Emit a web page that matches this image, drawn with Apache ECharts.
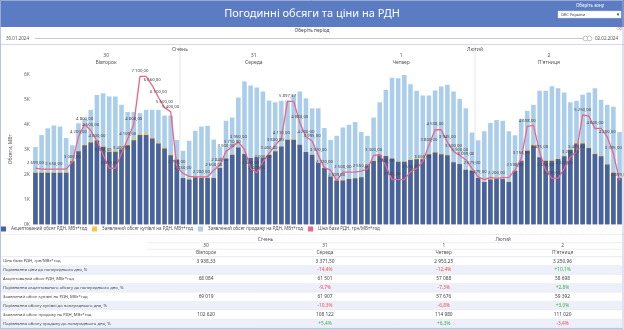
<!DOCTYPE html>
<html><head><meta charset="utf-8">
<script src="https://cdn.jsdelivr.net/npm/echarts@6/dist/echarts.min.js"></script>
<style>html,body{margin:0;padding:0;background:#fff}#c{width:624px;height:329px}</style>
</head><body><div id="c"></div>
<script>
// ---------- DATA ----------
const months = ['Січень', 'Лютий'];
const days = ['30', '31', '1', '2'];
const weekdays = ['Вівторок', 'Середа', 'Четвер', "П'ятниця"];
const hourLabels = ['1','2','3','4','5','6','7','8','9','10','11','12','13','14','15','16','17','18','19','20','21','22','23','24'];

// Accepted volume, MW
const acc30 = [2060,2060,2060,2060,2060,2060,2520,2920,3160,3270,3350,3100,2900,2900,3000,3160,3360,3570,3570,3430,3230,3030,2760,2590];
const acc31 = [1850,1790,1880,1850,1850,1850,2250,2610,2780,3070,2810,2650,2680,2650,2780,2920,3110,3380,3380,3180,2890,2780,2450,2250];
const acc01 = [1910,1750,1750,1810,1840,1880,2340,2530,2760,2730,2630,2500,2500,2570,2600,2600,2800,2870,2800,2760,2480,2410,2180,2140];
const acc02 = [1850,1690,1790,1810,1810,1690,2140,2540,2940,3150,2680,2540,2540,2610,2720,2980,3230,3230,3050,2810,2720,2390,2060,1850];
// Declared buy volume, MW
const buy30 = [2090,2100,2090,2100,2090,2100,2560,2950,3200,3310,3390,3140,2940,2940,3040,3210,3420,3630,3630,3470,3270,3070,2790,2620];
const buy31 = [1860,1800,1900,1870,1860,1870,2270,2630,2800,3090,2830,2670,2700,2670,2800,2940,3130,3400,3410,3200,2900,2790,2470,2260];
const buy01 = [1930,1770,1780,1830,1860,1900,2370,2560,2790,2750,2650,2520,2520,2600,2630,2630,2820,2900,2830,2780,2500,2430,2200,2160];
const buy02 = [1870,1710,1820,1840,1830,1720,2170,2570,2980,3190,2700,2570,2570,2640,2750,3010,3260,3270,3080,2840,2750,2420,2090,1870];
// Declared sell volume, MW
const sell30 = [3090,3570,3840,3950,3910,3450,3160,4040,4220,4580,5170,5240,5110,5110,4780,4490,4490,4450,4580,4580,4580,4350,4350,3370];
const sell31 = [2940,3340,3740,3910,3940,3390,3100,4140,4270,5070,5710,5550,5470,5310,4950,4880,4940,4950,5170,5310,5040,4640,4640,3850];
const sell01 = [3370,3540,3870,3980,4090,3690,3540,4270,4880,5380,5860,5840,5970,5600,5340,5150,5150,5350,5510,5580,5310,5020,4640,3670];
const sell02 = [3360,3720,4050,4170,4140,3720,3560,4220,4540,4780,5340,5340,5520,5440,5270,4880,4940,5180,5270,5440,4980,4780,4700,3690];
// Base price, UAH/MWh
const price30 = [2699,2650,2650,2650,2650,2650,3000,4200,4800,4500,4000,3337,2690,2690,3400,4100,4808,7100,7100,6660,6100,5600,5400,2750];
const price31 = [2450,2300,2280,2280,2280,2600,2840,3500,3710,3950,3600,2680,2470,3000,3400,3800,4110,5897.37,5897,4880,4200,3995,3320,2720];
const price01 = [2598,2099,2500,2500,2500,2550,2650,3300,3360,2800,2145,2145,2145,2516,2679,3000,3800,4538,4538,3945,3500,3300,3099,2679];
const price02 = [2279,2145,2250,2200,2244,2250,2598,3156,4698,4750,3475,2598,2200,2200,2678,3224,3475,5250,5200,4600,4600,4200,3395,2099];

const yTicksK = [0, 1000, 2000, 3000, 4000, 5000, 6000];

// Table
const rowLabels = [
  'Ціна бази РДН, грн/МВт*год',
  'Порівняння ціни до попереднього дня, %',
  'Акцептований обсяг РДН, МВт*год',
  'Порівняння акцептованого обсягу до попереднього дня, %',
  'Заявлений обсяг купівлі на РДН, МВт*год',
  'Порівняння обсягу купівлі до попереднього дня, %',
  'Заявлений обсяг продажу на РДН, МВт*год',
  'Порівняння обсягу продажу до попереднього дня, %'
];
const priceAvg = [3938.33, 3371.50, 2953.25, 3250.96];
const priceChg = [null, -14.4, -12.4, 10.1];
const accTotal = [68084, 61501, 57088, 58698];
const accChg = [null, -9.7, -7.3, 2.8];
const buyTotal = [69019, 61907, 57676, 59392];
const buyChg = [null, -10.3, -6.8, 3.0];
const sellTotal = [102620, 108122, 114980, 111020];
const sellChg = [null, 5.4, 6.3, -3.4];

// ---------- BUILD ----------
const FONT = '"Noto Sans", "DejaVu Sans", sans-serif';
function fmtNum(v, d) {
  const s = Number(v).toFixed(d);
  const parts = s.split('.');
  const i = parts[0].replace(/\B(?=(\d{3})+(?!\d))/g, ' ');
  return parts[1] ? i + ',' + parts[1] : i;
}
function fmtPct(v) {
  if (v === null) return '';
  return (v > 0 ? '+' : '') + v.toFixed(1).replace('.', ',') + '%';
}
const categories = [];
days.forEach(d => hourLabels.forEach(h => categories.push(d + '-' + h)));
const accepted = [...acc30, ...acc31, ...acc01, ...acc02];
const buy = [...buy30, ...buy31, ...buy01, ...buy02];
const sell = [...sell30, ...sell31, ...sell01, ...sell02];
const price = [...price30, ...price31, ...price01, ...price02];

const C_DARK = '#4562a3', C_YEL = '#f3c64a', C_LIGHT = '#a9cdeb', C_PINK = '#ee6389';
const NAMES = ['Акцептований обсяг РДН, МВт*год', 'Заявлений обсяг купівлі на РДН, МВт*год',
  'Заявлений обсяг продажу на РДН, МВт*год', 'Ціна бази РДН, грн/МВт*год'];

const chart = echarts.init(document.getElementById('c'), null, {renderer: 'canvas', width: 624, height: 329});

const option = {
  animation: false,
  textStyle: {fontFamily: FONT},
  grid: {left: 21.4, right: 1.4, top: 74.3, bottom: 104.7, containLabel: false},
  legend: {
    left: 1, top: 226.5, padding: 0, itemWidth: 5, itemHeight: 5, itemGap: 5, icon: 'rect',
    textStyle: {fontSize: 4.5, color: '#555', width: 102, overflow: 'truncate', fontFamily: FONT},
    data: [NAMES[0], NAMES[1], NAMES[2], {name: NAMES[3], itemStyle: {color: C_PINK}}]
  },
  xAxis: [
    {type: 'category', data: categories, show: false, boundaryGap: true},
    {type: 'category', data: days, position: 'top', boundaryGap: true,
      axisLine: {show: false}, axisTick: {show: false},
      axisLabel: {margin: 7.5, interval: 0,
        formatter: (v, i) => '{d|' + v + '}\n{w|' + weekdays[i] + '}',
        rich: {d: {fontSize: 5, lineHeight: 7.5, color: '#555', fontFamily: FONT},
               w: {fontSize: 5, lineHeight: 7.5, color: '#555', fontFamily: FONT}}}},
    {type: 'category', data: months, position: 'top', boundaryGap: true,
      axisLine: {show: false}, axisTick: {show: false},
      axisLabel: {margin: 22.5, interval: 0, fontSize: 5, color: '#555', fontFamily: FONT}}
  ],
  yAxis: [
    {type: 'value', min: yTicksK[0], max: yTicksK[yTicksK.length - 1], interval: 1000,
      axisLine: {show: false}, axisTick: {show: false}, splitLine: {show: false},
      axisLabel: {fontSize: 5, color: '#666', margin: 2.5, formatter: v => (v / 1000) + 'K'},
      name: 'Обсяги, МВт', nameLocation: 'middle', nameGap: 12, nameRotate: 90,
      nameTextStyle: {fontSize: 5, color: '#555'}},
    {type: 'value', min: 0, max: 7200, show: false}
  ],
  series: [
    {name: NAMES[2], type: 'bar', data: sell, itemStyle: {color: C_LIGHT}, barGap: '-100%', barCategoryGap: '26%', z: 2},
    {name: NAMES[1], type: 'bar', data: buy, itemStyle: {color: C_YEL}, barGap: '-100%', barCategoryGap: '26%', z: 3},
    {name: NAMES[0], type: 'bar', data: accepted, itemStyle: {color: C_DARK}, barGap: '-100%', barCategoryGap: '26%', z: 4},
    {name: NAMES[3], type: 'line', yAxisIndex: 1, data: price, symbol: 'circle', symbolSize: 1, showSymbol: true, z: 6,
      lineStyle: {color: C_PINK, width: 1.3}, itemStyle: {color: 'rgba(238,99,137,0)'},
      label: {show: true, position: 'top', distance: 3, fontSize: 4.3, color: '#444', fontFamily: FONT,
        formatter: p => fmtNum(p.value, 2)},
      labelLayout: {hideOverlap: true}}
  ]
};
chart.setOption(option);

// ---------- Dashboard chrome + table (graphic) ----------
const g = [];
function txt(x, y, text, size, color, align, extra) {
  g.push(Object.assign({type: 'text', x: x, y: y, z: 10,
    style: {text: text, fill: color, fontSize: size, fontFamily: FONT, textAlign: align || 'left', textVerticalAlign: 'middle'}}, extra || {}));
}
function line(x1, y1, x2, y2, color, w, z, dash) {
  g.push({type: 'line', z: z === undefined ? 1 : z, shape: {x1: x1, y1: y1, x2: x2, y2: y2},
    style: {stroke: color, lineWidth: w, lineDash: dash || null}});
}
// banner
g.push({type: 'rect', z: 0, shape: {x: 0, y: 0, width: 624, height: 27}, style: {fill: '#5b7cc3'}});
txt(312, 14, 'Погодинні обсяги та ціни на РДН', 11, '#ffffff', 'center');
txt(590, 5.5, 'Оберіть зону', 4.5, '#ffffff', 'center');
g.push({type: 'rect', z: 5, shape: {x: 558, y: 11, width: 63, height: 7}, style: {fill: '#ffffff', stroke: '#c9cfdd', lineWidth: 0.5}});
txt(561, 14.5, 'ОЕС України', 4, '#333', 'left');
txt(618, 14.5, '▾', 5, '#333', 'center');
// period slider
txt(312, 31, 'Оберіть період', 4.8, '#444', 'center');
txt(6, 38.5, '30.01.2024', 4.5, '#555', 'left');
txt(618, 38.5, '02.02.2024', 4.5, '#555', 'right');
line(35, 38.5, 586, 38.5, '#c8c8c8', 1.2, 2);
g.push({type: 'circle', z: 5, shape: {cx: 585.5, cy: 38.5, r: 2.4}, style: {fill: '#fff', stroke: '#999', lineWidth: 0.6}});
g.push({type: 'circle', z: 5, shape: {cx: 589.5, cy: 38.5, r: 2.4}, style: {fill: '#fff', stroke: '#999', lineWidth: 0.6}});
txt(619, 29, '⌫', 4, '#d77', 'center');
line(0, 44.5, 624, 44.5, '#c9d0e0', 0.8, 2);
// day separators (from the category scale)
[24, 72].forEach(idx => {
  const a = chart.convertToPixel({xAxisIndex: 0}, categories[idx - 1]);
  const b = chart.convertToPixel({xAxisIndex: 0}, categories[idx]);
  const x = (a + b) / 2;
  line(x, 45, x, 224.3, '#d5d5d5', 0.6, 0);
});
// table
const tableTop = 256.7, rowH = 8.9, colL = 146.7, colR = 622;
const colW = (colR - colL) / 4;
line(0, 234.5, 624, 234.5, '#d3d8e3', 0.6, 2, [1.5, 1]);
months.forEach((m, i) => txt(colL + colW * (2 * i + 1), 239.3, m, 4.8, '#555', 'center'));
line(colL, 242.7, colR, 242.7, '#e0e3ea', 0.6, 2);
days.forEach((d, i) => txt(colL + colW * (i + 0.5), 245.8, d, 4.8, '#555', 'center'));
line(colL, 249.2, colR, 249.2, '#e0e3ea', 0.6, 2);
weekdays.forEach((d, i) => txt(colL + colW * (i + 0.5), 252.8, d, 4.8, '#555', 'center'));
line(0, tableTop, colR, tableTop, '#d8dce6', 0.6, 2);
const rows = [
  priceAvg.map(v => fmtNum(v, 2)), priceChg,
  accTotal.map(v => fmtNum(v, 0)), accChg,
  buyTotal.map(v => fmtNum(v, 0)), buyChg,
  sellTotal.map(v => fmtNum(v, 0)), sellChg
];
rows.forEach((r, ri) => {
  const y0 = tableTop + ri * rowH;
  if (ri % 2 === 1) g.push({type: 'rect', z: 0, shape: {x: 0.5, y: y0, width: colR - 0.5, height: rowH}, style: {fill: '#edf0f8'}});
  line(0, y0 + rowH, colR, y0 + rowH, '#e4e7ee', 0.4, 1);
  txt(3, y0 + rowH / 2, rowLabels[ri], 4.2, '#444', 'left');
  r.forEach((v, ci) => {
    let text = v, color = '#444';
    if (ri % 2 === 1) {
      text = fmtPct(v);
      color = v === null ? '#444' : (v < 0 ? '#e5505f' : '#3fae55');
    }
    txt(colL + colW * (ci + 0.5), y0 + rowH / 2, text, 4.8, color, 'center');
  });
});
// outer frame
g.push({type: 'rect', z: 11, shape: {x: 0.5, y: 0.5, width: 622.5, height: 328}, style: {fill: 'none', stroke: '#a9b7d6', lineWidth: 0.8}});

chart.setOption({graphic: g});
</script>
</body></html>
